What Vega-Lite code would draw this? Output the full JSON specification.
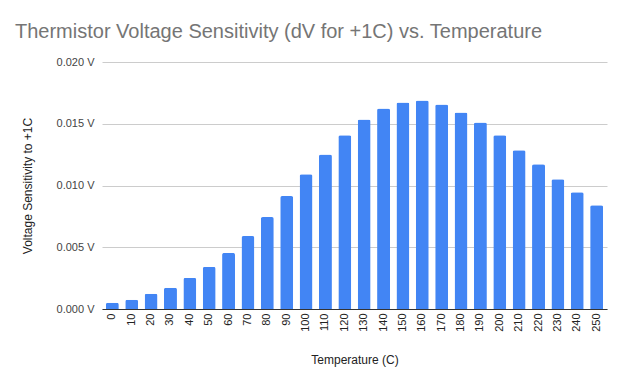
{
  "$schema": "https://vega.github.io/schema/vega-lite/v6.json",
  "width": 505,
  "height": 247,
  "autosize": {"type": "none"},
  "padding": {"left": 102, "top": 62, "right": 23, "bottom": 79},
  "background": "white",
  "title": {
    "text": "Thermistor Voltage Sensitivity (dV for +1C) vs. Temperature",
    "anchor": "start",
    "frame": "group",
    "dx": -87,
    "offset": 14,
    "font": "Liberation Sans",
    "fontSize": 20,
    "fontWeight": "normal",
    "color": "#757575"
  },
  "config": {
    "view": {"stroke": null},
    "font": "Liberation Sans"
  },
  "data": {
    "values": [
      {"t": 0, "v": 0.00051},
      {"t": 10, "v": 0.00075},
      {"t": 20, "v": 0.00123},
      {"t": 30, "v": 0.00172},
      {"t": 40, "v": 0.00252},
      {"t": 50, "v": 0.00341},
      {"t": 60, "v": 0.00454},
      {"t": 70, "v": 0.00591},
      {"t": 80, "v": 0.00744},
      {"t": 90, "v": 0.00914},
      {"t": 100, "v": 0.01091},
      {"t": 110, "v": 0.01252},
      {"t": 120, "v": 0.01406},
      {"t": 130, "v": 0.01534},
      {"t": 140, "v": 0.01623},
      {"t": 150, "v": 0.01672},
      {"t": 160, "v": 0.01688},
      {"t": 170, "v": 0.01656},
      {"t": 180, "v": 0.01591},
      {"t": 190, "v": 0.01510},
      {"t": 200, "v": 0.01406},
      {"t": 210, "v": 0.01285},
      {"t": 220, "v": 0.01172},
      {"t": 230, "v": 0.01051},
      {"t": 240, "v": 0.00946},
      {"t": 250, "v": 0.00841}
    ]
  },
  "mark": {"type": "bar", "color": "#4285F4", "cornerRadiusTopLeft": 2, "cornerRadiusTopRight": 2},
  "encoding": {
    "x": {
      "field": "t",
      "type": "ordinal",
      "sort": null,
      "scale": {"paddingInner": 0.33, "paddingOuter": 0.2},
      "axis": {
        "title": "Temperature (C)",
        "titleFont": "Liberation Sans",
        "titleFontSize": 12,
        "titleFontWeight": "normal",
        "titleColor": "#222222",
        "titlePadding": 23,
        "labelAngle": -90,
        "labelFontSize": 11,
        "labelColor": "#222222",
        "labelPadding": 4,
        "ticks": false,
        "domainColor": "#333333",
        "domainWidth": 1
      }
    },
    "y": {
      "field": "v",
      "type": "quantitative",
      "scale": {"domain": [0, 0.02], "nice": false},
      "axis": {
        "title": "Voltage Sensitivity to +1C",
        "titleFont": "Liberation Sans",
        "titleFontSize": 12,
        "titleFontWeight": "normal",
        "titleColor": "#222222",
        "titlePadding": 22,
        "values": [0, 0.005, 0.01, 0.015, 0.02],
        "format": ".3f",
        "labelExpr": "datum.label + ' V'",
        "labelFontSize": 11,
        "labelColor": "#444444",
        "labelPadding": 8,
        "ticks": false,
        "domain": false,
        "gridColor": "#cccccc"
      }
    }
  }
}
